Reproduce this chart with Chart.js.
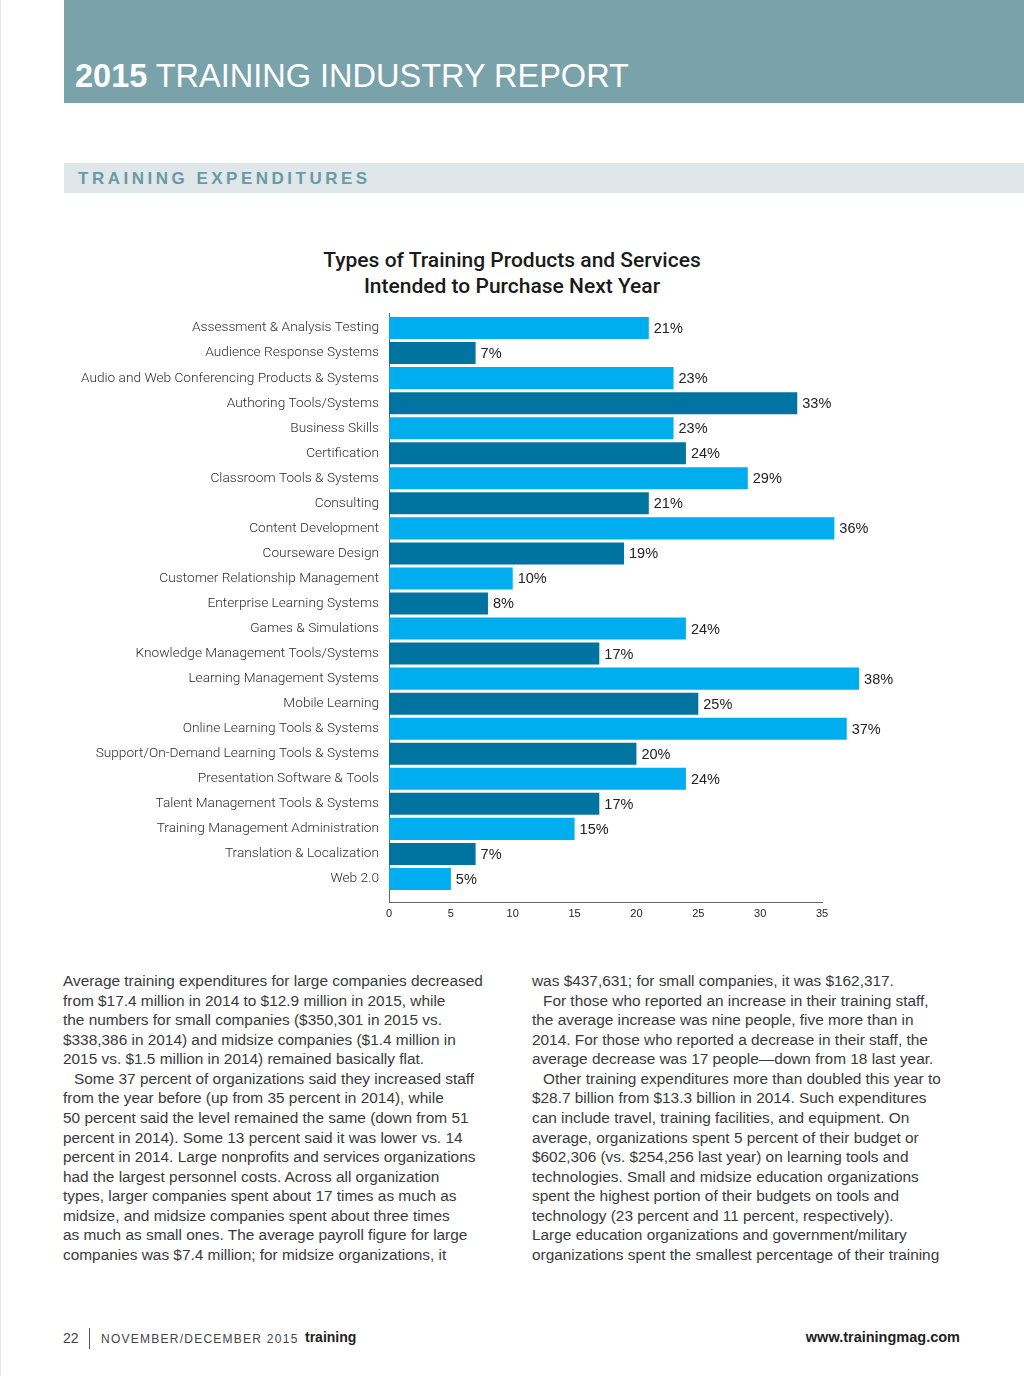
<!DOCTYPE html>
<html>
<head>
<meta charset="utf-8">
<script src="https://cdn.jsdelivr.net/npm/chart.js@4.4.1/dist/chart.umd.min.js"></script>
<style>
  html, body { margin: 0; padding: 0; background: #fff; }
  body { width: 1024px; height: 1376px; position: relative; overflow: hidden; font-family: "Liberation Sans", Arial, sans-serif; }
  .edge { position: absolute; left: 0; top: 0; width: 1px; height: 1376px; background: #e6e6e6; }
  .header { position: absolute; left: 64px; top: 0; width: 960px; height: 103px; background: #7aa2aa; }
  .header span { position: absolute; left: 11px; top: 58px; font-size: 32.5px; color: #fff; white-space: nowrap; }
  .header b { font-weight: bold; }
  .section { position: absolute; left: 64px; top: 163px; width: 960px; height: 30px; background: #dfe7ea; }
  .section span { position: absolute; left: 14px; top: 6px; font-size: 17px; font-weight: bold; letter-spacing: 3.5px; color: #6a9aa6; }
  .title { position: absolute; left: 0; width: 1024px; top: 247px; text-align: center; font-family: Roboto, "Liberation Sans", sans-serif; font-weight: 500; font-size: 21px; line-height: 26px; color: #1a1a1a; }
  #wrap { position: absolute; left: 40px; top: 290px; width: 900px; height: 642px; }
  .col { position: absolute; top: 971px; font-size: 15.4px; line-height: 19.57px; color: #3a3a3a; white-space: nowrap; }
  .col .in { padding-left: 11px; }
  .footer { position: absolute; top: 1330px; font-size: 13px; color: #444; white-space: nowrap; }
</style>
</head>
<body>
<div class="edge"></div>
<div class="header"><span><b>2015</b> TRAINING INDUSTRY REPORT</span></div>
<div class="section"><span>TRAINING EXPENDITURES</span></div>
<div class="title">Types of Training Products and Services<br>Intended to Purchase Next Year</div>
<div id="wrap"><canvas id="chart"></canvas></div>

<div class="col" style="left:63px;">
  <div>Average training expenditures for large companies decreased</div>
  <div>from $17.4 million in 2014 to $12.9 million in 2015, while</div>
  <div>the numbers for small companies ($350,301 in 2015 vs.</div>
  <div>$338,386 in 2014) and midsize companies ($1.4 million in</div>
  <div>2015 vs. $1.5 million in 2014) remained basically flat.</div>
  <div class="in">Some 37 percent of organizations said they increased staff</div>
  <div>from the year before (up from 35 percent in 2014), while</div>
  <div>50 percent said the level remained the same (down from 51</div>
  <div>percent in 2014). Some 13 percent said it was lower vs. 14</div>
  <div>percent in 2014. Large nonprofits and services organizations</div>
  <div>had the largest personnel costs. Across all organization</div>
  <div>types, larger companies spent about 17 times as much as</div>
  <div>midsize, and midsize companies spent about three times</div>
  <div>as much as small ones. The average payroll figure for large</div>
  <div>companies was $7.4 million; for midsize organizations, it</div>
</div>
<div class="col" style="left:532px;">
  <div>was $437,631; for small companies, it was $162,317.</div>
  <div class="in">For those who reported an increase in their training staff,</div>
  <div>the average increase was nine people, five more than in</div>
  <div>2014. For those who reported a decrease in their staff, the</div>
  <div>average decrease was 17 people—down from 18 last year.</div>
  <div class="in">Other training expenditures more than doubled this year to</div>
  <div>$28.7 billion from $13.3 billion in 2014. Such expenditures</div>
  <div>can include travel, training facilities, and equipment. On</div>
  <div>average, organizations spent 5 percent of their budget or</div>
  <div>$602,306 (vs. $254,256 last year) on learning tools and</div>
  <div>technologies. Small and midsize education organizations</div>
  <div>spent the highest portion of their budgets on tools and</div>
  <div>technology (23 percent and 11 percent, respectively).</div>
  <div>Large education organizations and government/military</div>
  <div>organizations spent the smallest percentage of their training</div>
</div>

<div class="footer" style="left:63px; font-size:14px;">22</div>
<div style="position:absolute; left:89px; top:1328px; width:1px; height:21px; background:#555;"></div>
<div class="footer" style="left:101px; letter-spacing:1.25px; font-size:12px; top:1332px;">NOVEMBER/DECEMBER 2015</div>
<div class="footer" style="left:305px; font-weight:bold; font-size:14px; color:#222; top:1329px;">training</div>
<div class="footer" style="right:64px; font-weight:bold; font-size:14.5px; color:#222; top:1329px;">www.trainingmag.com</div>

<script>
// categories, top to bottom
const categories = [
  'Assessment & Analysis Testing',
  'Audience Response Systems',
  'Audio and Web Conferencing Products & Systems',
  'Authoring Tools/Systems',
  'Business Skills',
  'Certification',
  'Classroom Tools & Systems',
  'Consulting',
  'Content Development',
  'Courseware Design',
  'Customer Relationship Management',
  'Enterprise Learning Systems',
  'Games & Simulations',
  'Knowledge Management Tools/Systems',
  'Learning Management Systems',
  'Mobile Learning',
  'Online Learning Tools & Systems',
  'Support/On-Demand Learning Tools & Systems',
  'Presentation Software & Tools',
  'Talent Management Tools & Systems',
  'Training Management Administration',
  'Translation & Localization',
  'Web 2.0'
];

// percent intending to purchase
const percents = [21, 7, 23, 33, 23, 24, 29, 21, 36, 19, 10, 8, 24, 17, 38, 25, 37, 20, 24, 17, 15, 7, 5];

// x axis ticks
const xTicks = [0, 5, 10, 15, 20, 25, 30, 35];

const lightBlue = '#00adee';
const darkBlue = '#0074a0';

// bars alternate light / dark
const barColors = percents.map((v, i) => i % 2 === 0 ? lightBlue : darkBlue);

// value labels at the end of each bar
const valueLabels = {
  id: 'valueLabels',
  afterDatasetsDraw(chart) {
    const ctx = chart.ctx;
    const meta = chart.getDatasetMeta(0);
    ctx.save();
    ctx.font = '14.5px "Liberation Sans", Arial, sans-serif';
    ctx.fillStyle = '#222';
    ctx.textAlign = 'left';
    ctx.textBaseline = 'middle';
    meta.data.forEach((bar, i) => {
      ctx.fillText(percents[i] + '%', bar.x + 5, bar.y + 1);
    });
    ctx.restore();
  }
};

new Chart(document.getElementById('chart'), {
  type: 'bar',
  data: {
    datasets: [{
      data: percents.map((v, i) => ({ x: v, y: i })),
      backgroundColor: barColors,
      borderWidth: 0,
      categoryPercentage: 1,
      barPercentage: 0.88,
      clip: false
    }]
  },
  options: {
    indexAxis: 'y',
    responsive: true,
    maintainAspectRatio: false,
    animation: false,
    layout: { padding: { top: 23, right: 118, left: 0, bottom: 0 } },
    plugins: {
      legend: { display: false },
      tooltip: { enabled: false }
    },
    scales: {
      y: {
        type: 'linear',
        reverse: true,
        offset: false,
        min: -0.6,
        max: 22.92,
        grid: { display: false, drawTicks: false },
        border: { color: '#666', width: 1 },
        afterFit(scale) { scale.width = 349; },
        ticks: {
          stepSize: 1,
          includeBounds: false,
          autoSkip: false,
          padding: 10,
          color: '#2e2e2e',
          font: { family: 'Roboto, "Liberation Sans", sans-serif', size: 13.7, weight: 300 },
          callback: (v) => categories[Math.round(v)] ?? ''
        }
      },
      x: {
        type: 'linear',
        min: 0,
        max: 35,
        offset: false,
        grid: { display: false, drawTicks: false },
        border: { color: '#666', width: 1 },
        afterFit(scale) { scale.height = 30; },
        afterBuildTicks(scale) { scale.ticks = xTicks.map(v => ({ value: v })); },
        ticks: {
          padding: 5,
          color: '#222',
          font: { family: '"Liberation Sans", Arial, sans-serif', size: 11 }
        }
      }
    }
  },
  plugins: [valueLabels]
});
</script>
</body>
</html>
